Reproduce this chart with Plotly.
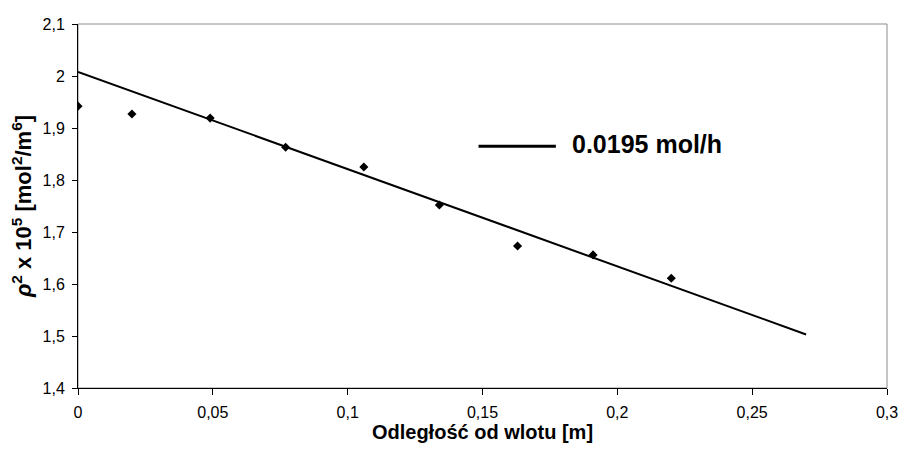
import plotly.graph_objects as go

# measured data
x_pts = [0.0, 0.02, 0.049, 0.077, 0.106, 0.134, 0.163, 0.191, 0.22]
y_pts = [1.942, 1.927, 1.919, 1.863, 1.825, 1.752, 1.673, 1.656, 1.611]

# trend line end points
x_line = [0.0, 0.27]
y_line = [2.008, 1.503]

legend_label = "0.0195 mol/h"
x_title = "Odległość od wlotu [m]"
y_title = "<i>ρ</i><sup>2</sup> x 10<sup>5</sup> [mol<sup>2</sup>/m<sup>6</sup>]"

x_ticks = [0, 0.05, 0.1, 0.15, 0.2, 0.25, 0.3]
x_ticktext = ["0", "0,05", "0,1", "0,15", "0,2", "0,25", "0,3"]
y_ticks = [1.4, 1.5, 1.6, 1.7, 1.8, 1.9, 2.0, 2.1]
y_ticktext = ["1,4", "1,5", "1,6", "1,7", "1,8", "1,9", "2", "2,1"]

FONT = "Liberation Sans, Arial, sans-serif"

# page has an 8px body margin, so figure coords = screen coords - 8
OFF = 8
W, H = 906 - OFF, 453 - OFF
L, R, T, B = 78 - OFF, 894 - OFF, 16 - OFF, 388 - OFF

def px(xs):
    return (xs - OFF - L) / (R - L)

def py(ys):
    return (B - (ys - OFF)) / (B - T)

fig = go.Figure()
fig.add_trace(go.Scatter(x=x_line, y=y_line, mode="lines",
                         line=dict(color="black", width=2),
                         showlegend=False, hoverinfo="skip"))
fig.add_trace(go.Scatter(x=x_pts, y=y_pts, mode="markers",
                         marker=dict(symbol="diamond", size=7, color="black"),
                         showlegend=False))

# plot area border (grey, top/right)
fig.add_shape(type="rect", xref="paper", yref="paper", x0=0, y0=0, x1=1, y1=1,
              line=dict(color="#8c8c8c", width=1), layer="below")

# legend sample
fig.add_shape(type="line", xref="paper", yref="paper",
              x0=px(482), x1=px(560), y0=py(141), y1=py(141),
              line=dict(color="black", width=3))
fig.add_annotation(xref="paper", yref="paper",
                   x=px(574), y=py(139),
                   xanchor="left", yanchor="middle", showarrow=False,
                   text="<b>" + legend_label + "</b>",
                   font=dict(family=FONT, size=25, color="black"))

fig.update_layout(
    width=W, height=H,
    margin=dict(l=L, r=W - R, t=T, b=H - B),
    paper_bgcolor="white", plot_bgcolor="white",
    font=dict(family=FONT, size=16, color="black"),
    showlegend=False,
)
fig.update_xaxes(range=[0, 0.3], tickvals=x_ticks, ticktext=x_ticktext,
                 showgrid=False, zeroline=False, showline=True,
                 linecolor="black", linewidth=1, ticks="outside",
                 ticklen=6, tickcolor="black", ticklabelstandoff=4,
                 ticklabeloverflow="allow",
                 tickfont=dict(family=FONT, size=16),
                 title=dict(text="<b>" + x_title + "</b>",
                            font=dict(family=FONT, size=20), standoff=4))
fig.update_yaxes(range=[1.4, 2.1], tickvals=y_ticks, ticktext=y_ticktext,
                 showgrid=False, zeroline=False, showline=True,
                 linecolor="black", linewidth=1, ticks="outside",
                 ticklen=5, tickcolor="black", ticklabelstandoff=4,
                 ticklabeloverflow="allow",
                 tickfont=dict(family=FONT, size=16),
                 title=dict(text="<b>" + y_title + "</b>",
                            font=dict(family=FONT, size=22), standoff=6))

fig.write_html("out.html")
